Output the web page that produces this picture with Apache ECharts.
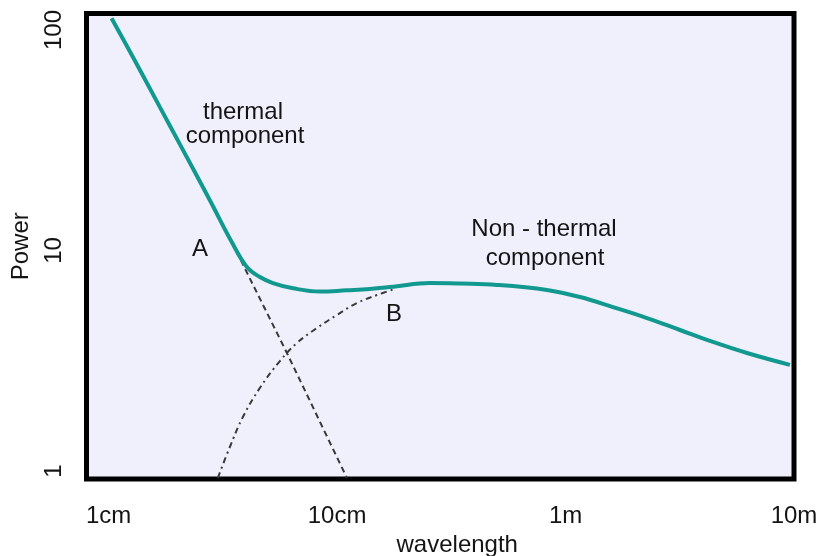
<!DOCTYPE html>
<html>
<head>
<meta charset="utf-8">
<title>Power vs wavelength</title>
<script src="https://cdn.jsdelivr.net/npm/echarts@6/dist/echarts.min.js"></script>
<style>
  html, body { margin: 0; padding: 0; background: #ffffff; }
  #chart { width: 822px; height: 556px; }
</style>
</head>
<body>
<div id="chart"></div>
<script>
// Wavelength in metres, power in arbitrary units (log-log)
const totalWavelength = [0.0103, 0.01239, 0.01676, 0.02114, 0.02774, 0.03463, 0.04028, 0.04593,
  0.05236, 0.0642, 0.0841, 0.1100, 0.1391, 0.1760, 0.2549, 0.3449, 0.5008, 0.829, 1.157, 1.612,
  2.272, 3.169, 4.419, 6.227, 9.60];
const totalPower = [113, 79.9, 44.7, 28.6, 16.9, 10.9, 8.42, 7.58,
  7.12, 6.74, 6.51, 6.60, 6.69, 6.85, 7.12, 7.08, 6.98, 6.62, 6.15, 5.54,
  4.94, 4.36, 3.85, 3.43, 3.03];

// Thermal component continued below point A
const thermalWavelength = [0.03463, 0.0603, 0.1104];
const thermalPower = [10.9, 3.43, 0.93];

// Non-thermal component continued below point B
const nonThermalWavelength = [0.03006, 0.03393, 0.03869, 0.0459, 0.0562, 0.06668, 0.0816,
  0.0998, 0.1222, 0.1494, 0.1791];
const nonThermalPower = [0.93, 1.285, 1.758, 2.378, 3.154, 3.806, 4.45,
  5.10, 5.78, 6.28, 6.69];

// Axis ticks and their labels
const xTickValues = [0.01, 0.1, 1, 10];
const xTickLabels = ['1cm', '10cm', '1m', '10m'];
const yTickValues = [1, 10, 100];
const yTickLabels = ['1', '10', '100'];

const FONT = '"Liberation Sans", Arial, sans-serif';
const TEXT_COLOR = '#141414';

function pairs(xs, ys) {
  return xs.map((x, i) => [x, ys[i]]);
}

function tickFormatter(values, labels) {
  return (v) => {
    const i = values.findIndex(t => Math.abs(Math.log10(t) - Math.log10(v)) < 1e-6);
    return i >= 0 ? labels[i] : '';
  };
}

function annotation(text, x, y) {
  return {
    type: 'text', x, y,
    style: { text, font: '24px ' + FONT, fill: TEXT_COLOR, align: 'center', verticalAlign: 'middle' }
  };
}

const chart = echarts.init(document.getElementById('chart'), null, { renderer: 'canvas' });

chart.setOption({
  animation: false,
  backgroundColor: '#ffffff',
  grid: {
    left: 86.5,
    top: 13.5,
    right: 28,
    bottom: 77,
    outerBoundsMode: 'none',
    containLabel: false,
    show: true,
    backgroundColor: '#f0f0fd',
    borderColor: '#000000',
    borderWidth: 5
  },
  xAxis: {
    type: 'log',
    logBase: 10,
    min: 0.008,
    max: 10,
    name: 'wavelength',
    nameLocation: 'middle',
    nameGap: 52,
    nameTextStyle: { fontFamily: FONT, fontSize: 24, color: TEXT_COLOR, padding: [0, 0, 0, 34] },
    axisLine: { show: false },
    axisTick: { show: false },
    splitLine: { show: false },
    axisLabel: {
      customValues: xTickValues,
      margin: 25,
      fontFamily: FONT,
      fontSize: 24,
      color: TEXT_COLOR,
      formatter: tickFormatter(xTickValues, xTickLabels)
    }
  },
  yAxis: {
    type: 'log',
    logBase: 10,
    min: 0.92,
    max: 118.8,
    name: 'Power',
    nameLocation: 'middle',
    nameRotate: 90,
    nameGap: 53,
    nameTextStyle: { fontFamily: FONT, fontSize: 24, color: TEXT_COLOR },
    axisLine: { show: false },
    axisTick: { show: false },
    splitLine: { show: false },
    axisLabel: {
      customValues: yTickValues,
      rotate: 90,
      margin: 20,
      fontFamily: FONT,
      fontSize: 24,
      color: TEXT_COLOR,
      formatter: tickFormatter(yTickValues, yTickLabels)
    }
  },
  series: [
    {
      name: 'thermal extension',
      type: 'line',
      data: pairs(thermalWavelength, thermalPower),
      showSymbol: false,
      smooth: false,
      lineStyle: { color: '#3a3a3a', width: 2, type: [6, 4] },
      z: 2
    },
    {
      name: 'non-thermal extension',
      type: 'line',
      data: pairs(nonThermalWavelength, nonThermalPower),
      showSymbol: false,
      smooth: 0.4,
      lineStyle: { color: '#3a3a3a', width: 2, type: [6, 4, 2, 4] },
      z: 2
    },
    {
      name: 'total',
      type: 'line',
      data: pairs(totalWavelength, totalPower),
      showSymbol: false,
      smooth: 0.4,
      lineStyle: { color: '#12998f', width: 4 },
      z: 3
    }
  ],
  graphic: [
    annotation('thermal', 243, 112),
    annotation('component', 245, 136.6),
    annotation('Non - thermal', 544, 229.6),
    annotation('component', 545, 258.6),
    annotation('A', 200, 249.6),
    annotation('B', 394, 314.6)
  ]
});
</script>
</body>
</html>
